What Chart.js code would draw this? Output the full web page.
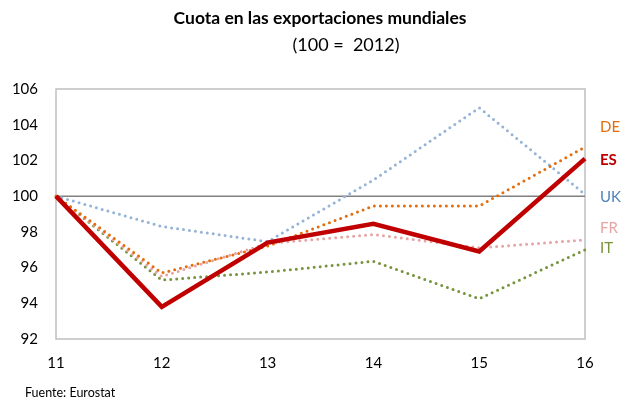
<!DOCTYPE html>
<html><head><meta charset="utf-8">
<script src="https://cdn.jsdelivr.net/npm/chart.js@4"></script>
<style>html,body{margin:0;padding:0;background:#fff}#wrap{width:624px;height:400px;position:relative}</style>
</head><body><div id="wrap"><canvas id="c" width="624" height="400"></canvas></div>
<script>
const years = ['11','12','13','14','15','16'];
const esValues = [100, 93.8, 97.4, 98.45, 96.9, 102.1];
const deValues = [100, 95.7, 97.2, 99.45, 99.45, 102.75];
const ukValues = [100, 98.3, 97.45, 100.9, 104.95, 100.1];
const frValues = [100, 95.5, 97.35, 97.85, 97.1, 97.55];
const itValues = [100, 95.3, 95.75, 96.35, 94.25, 97.0];
const yTicks = [92, 94, 96, 98, 100, 102, 104, 106];
const seriesNames = ['ES', 'DE', 'UK', 'FR', 'IT'];
const titleText = 'Cuota en las exportaciones mundiales';
const subtitleText = '(100 =  2012)';
const sourceText = 'Fuente: Eurostat';

const FONT = 'Lato, "Open Sans", sans-serif';
const dotted = {borderDash:[0,6], borderCapStyle:'round', borderWidth:3, pointRadius:0, tension:0, fill:false};

const extras = {
  id:'extras',
  beforeDatasetsDraw(chart){
    const {ctx, chartArea:a} = chart;
    ctx.save();
    ctx.strokeStyle = '#BFBFBF'; ctx.lineWidth = 1.5;
    ctx.strokeRect(a.left, a.top, a.right-a.left, a.bottom-a.top);
    const y = chart.scales.y.getPixelForValue(100);
    ctx.strokeStyle = '#808080'; ctx.lineWidth = 1.5;
    ctx.beginPath(); ctx.moveTo(a.left, y); ctx.lineTo(a.right, y); ctx.stroke();
    ctx.restore();
  },
  afterDraw(chart){
    const {ctx} = chart;
    ctx.save();
    ctx.fillStyle = '#000'; ctx.textAlign = 'center'; ctx.textBaseline = 'middle';
    ctx.font = 'bold 17.5px ' + FONT;
    ctx.fillText(titleText, 320, 18);
    ctx.font = '18px ' + FONT;
    ctx.fillText(subtitleText, 346, 45);
    ctx.textAlign = 'left';
    ctx.font = '12.5px ' + FONT;
    ctx.fillText(sourceText, 25, 393);
    const lab = [
      {t:seriesNames[1], c:'#E46C0A', y:127, b:false},
      {t:seriesNames[0], c:'#C00000', y:160, b:true},
      {t:seriesNames[2], c:'#4F81BD', y:197, b:false},
      {t:seriesNames[3], c:'#E6A5A4', y:228, b:false},
      {t:seriesNames[4], c:'#77933C', y:248, b:false}
    ];
    lab.forEach(l=>{
      ctx.font = (l.b?'bold ':'') + '15px ' + FONT;
      ctx.fillStyle = l.c;
      ctx.fillText(l.t, 600, l.y);
    });
    ctx.restore();
  }
};

new Chart(document.getElementById('c'), {
  type:'line',
  data:{
    labels: years,
    datasets:[
      {label:seriesNames[0], data:esValues, borderColor:'#C00000', borderWidth:4.5, pointRadius:0, tension:0, fill:false, borderJoinStyle:'miter'},
      Object.assign({label:seriesNames[1], data:deValues, borderColor:'#E46C0A'}, dotted),
      Object.assign({label:seriesNames[3], data:frValues, borderColor:'#E6A5A4'}, dotted),
      Object.assign({label:seriesNames[4], data:itValues, borderColor:'#77933C'}, dotted),
      Object.assign({label:seriesNames[2], data:ukValues, borderColor:'#95B3D7'}, dotted)
    ]
  },
  options:{
    responsive:false, animation:false,
    layout:{padding:{left:0, right:39, top:89, bottom:26}},
    plugins:{legend:{display:false}, tooltip:{enabled:false}, title:{display:false}},
    scales:{
      x:{
        offset:false,
        grid:{display:false, drawTicks:false},
        border:{display:false},
        ticks:{color:'#000', font:{family:FONT, size:15}, padding:15, maxRotation:0, autoSkip:false},
        afterFit(s){ s.height = 35; }
      },
      y:{
        min:92, max:106,
        afterBuildTicks(s){ s.ticks = yTicks.map(v=>({value:v})); },
        grid:{display:false, drawTicks:false},
        border:{display:false},
        ticks:{color:'#000', font:{family:FONT, size:15}, padding:18},
        afterFit(s){ s.width = 56; }
      }
    }
  },
  plugins:[extras]
});
</script></body></html>
